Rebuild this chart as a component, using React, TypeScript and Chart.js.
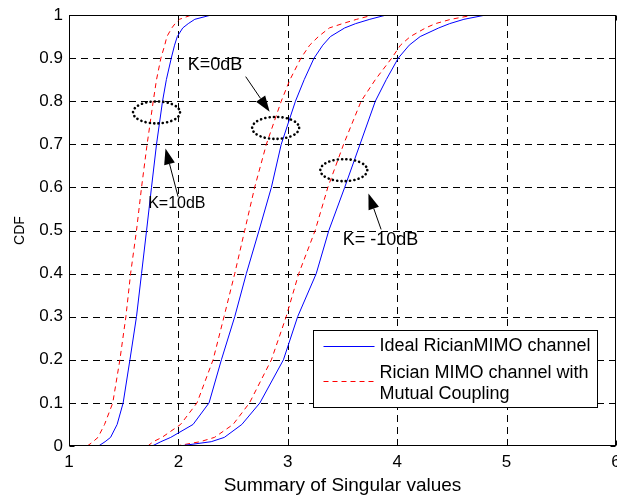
import React, { useEffect, useRef } from 'react';
import { Chart, registerables } from 'chart.js';
Chart.register(...registerables);

// CDF levels (y) and the sum of singular values (x) for each curve at those levels
const cdfLevels = [0, 0.01, 0.02, 0.05, 0.1, 0.2, 0.3, 0.4, 0.5, 0.6, 0.7, 0.8, 0.85, 0.9, 0.93, 0.95, 0.97, 0.98, 0.99, 1, 1];
const idealK10 = [1.27, 1.33, 1.38, 1.44, 1.495, 1.557, 1.617, 1.663, 1.709, 1.754, 1.8, 1.855, 1.89, 1.935, 1.965, 1.99, 2.04, 2.09, 2.15, 2.3, 6];
const couplingK10 = [1.167, 1.22, 1.265, 1.325, 1.4, 1.465, 1.52, 1.563, 1.617, 1.663, 1.714, 1.77, 1.8, 1.84, 1.875, 1.895, 1.94, 1.97, 2.01, 2.12, 6];
const idealK0 = [1.76, 1.84, 1.93, 2.134, 2.28, 2.393, 2.515, 2.621, 2.737, 2.85, 2.94, 3.07, 3.15, 3.24, 3.32, 3.39, 3.52, 3.62, 3.75, 3.9, 6];
const couplingK0 = [1.72, 1.77, 1.85, 2.02, 2.17, 2.317, 2.417, 2.515, 2.606, 2.697, 2.804, 2.94, 3.02, 3.12, 3.2, 3.28, 3.38, 3.5, 3.63, 3.78, 6];
const idealKm10 = [2.01, 2.3, 2.42, 2.58, 2.745, 2.96, 3.09, 3.26, 3.375, 3.52, 3.66, 3.8, 3.9, 4.01, 4.11, 4.21, 4.38, 4.48, 4.61, 4.81, 6];
const couplingKm10 = [1.98, 2.2, 2.33, 2.5, 2.65, 2.85, 2.985, 3.1, 3.25, 3.366, 3.51, 3.67, 3.8, 3.95, 4.03, 4.12, 4.26, 4.35, 4.49, 4.7, 6];

const xTicks = [1, 2, 3, 4, 5, 6];
const yTicks = [0, 0.1, 0.2, 0.3, 0.4, 0.5, 0.6, 0.7, 0.8, 0.9, 1];
const yTickLabels = ['0', '0.1', '0.2', '0.3', '0.4', '0.5', '0.6', '0.7', '0.8', '0.9', '1'];

const seriesNames = ['Ideal RicianMIMO channel', 'Rician MIMO channel with Mutual Coupling'];
const legendLines = [['Ideal RicianMIMO channel'], ['Rician MIMO channel with', 'Mutual Coupling']];

// annotations (data coordinates)
const annotationLabels = ['K=10dB', 'K=0dB', 'K= -10dB'];
const labelX = [1.7235, 2.086, 3.503];
const labelY = [0.5617, 0.884, 0.4776];
const ellipseX = [1.8, 2.889, 3.512];
const ellipseY = [0.774, 0.738, 0.64];
const arrowFromX = [1.997, 2.615, 3.853];
const arrowFromY = [0.5784, 0.857, 0.5024];
const arrowToX = [1.882, 2.834, 3.737];
const arrowToY = [0.6905, 0.7755, 0.586];

const FONT = '"Liberation Sans", Arial, Helvetica, sans-serif';
const BLUE = '#0000ff';
const RED = '#ff0000';
const RED_DASH = [5, 4];

function toPoints(xs: number[]) {
  return xs.map((x, i) => ({ x, y: cdfLevels[i] }));
}

function drawArrow(ctx: CanvasRenderingContext2D, x1: number, y1: number, x2: number, y2: number) {
  const ang = Math.atan2(y2 - y1, x2 - x1);
  const L = 16;
  const W = 5.5;
  const bx = x2 - L * Math.cos(ang);
  const by = y2 - L * Math.sin(ang);
  ctx.beginPath();
  ctx.moveTo(x1, y1);
  ctx.lineTo(bx, by);
  ctx.stroke();
  ctx.beginPath();
  ctx.moveTo(x2, y2);
  ctx.lineTo(bx + W * Math.sin(ang), by - W * Math.cos(ang));
  ctx.lineTo(bx - W * Math.sin(ang), by + W * Math.cos(ang));
  ctx.closePath();
  ctx.fill();
}

const decorPlugin = {
  id: 'decor',
  beforeDatasetsDraw(chart: any) {
    const { ctx, chartArea: a, scales } = chart;
    const xs = scales.x;
    const ys = scales.y;
    ctx.save();
    ctx.strokeStyle = '#000';
    ctx.lineWidth = 1;
    ctx.setLineDash([7, 5]);
    xTicks.forEach((v) => {
      if (v <= xs.min || v >= xs.max) return;
      const px = Math.round(xs.getPixelForValue(v)) + 0.5;
      ctx.beginPath();
      ctx.moveTo(px, a.bottom);
      ctx.lineTo(px, a.top);
      ctx.stroke();
    });
    yTicks.forEach((v) => {
      if (v <= ys.min || v >= ys.max) return;
      const py = Math.round(ys.getPixelForValue(v)) + 0.5;
      ctx.beginPath();
      ctx.moveTo(a.left, py);
      ctx.lineTo(a.right, py);
      ctx.stroke();
    });
    ctx.restore();
  },
  afterDatasetsDraw(chart: any) {
    const { ctx, chartArea: a, scales } = chart;
    const xs = scales.x;
    const ys = scales.y;
    ctx.save();
    // frame
    ctx.setLineDash([]);
    ctx.strokeStyle = '#000';
    ctx.lineWidth = 1;
    const L = Math.round(a.left) + 0.5;
    const R = Math.round(a.right) - 0.5;
    const T = Math.round(a.top) + 0.5;
    const B = Math.round(a.bottom) - 0.5;
    ctx.strokeRect(L, T, R - L, B - T);
    // inward tick marks
    const tl = 5;
    xTicks.forEach((v) => {
      const px = Math.round(xs.getPixelForValue(v)) + 0.5;
      ctx.beginPath();
      ctx.moveTo(px, B); ctx.lineTo(px, B - tl);
      ctx.moveTo(px, T); ctx.lineTo(px, T + tl);
      ctx.stroke();
    });
    yTicks.forEach((v) => {
      const py = Math.round(ys.getPixelForValue(v)) + 0.5;
      ctx.beginPath();
      ctx.moveTo(L, py); ctx.lineTo(L + tl, py);
      ctx.moveTo(R, py); ctx.lineTo(R - tl, py);
      ctx.stroke();
    });

    // dotted ellipses
    ctx.lineWidth = 2.6;
    ctx.lineCap = 'round';
    ctx.setLineDash([0.1, 4.2]);
    ellipseX.forEach((ex, i) => {
      const cx = xs.getPixelForValue(ex);
      const cy = ys.getPixelForValue(ellipseY[i]);
      ctx.beginPath();
      ctx.ellipse(cx, cy, 23.5, 11, 0, 0, Math.PI * 2);
      ctx.stroke();
    });

    // arrows
    ctx.setLineDash([]);
    ctx.lineCap = 'butt';
    ctx.lineWidth = 1;
    ctx.fillStyle = '#000';
    arrowFromX.forEach((fx, i) => {
      drawArrow(
        ctx,
        xs.getPixelForValue(fx), ys.getPixelForValue(arrowFromY[i]),
        xs.getPixelForValue(arrowToX[i]), ys.getPixelForValue(arrowToY[i])
      );
    });

    // labels
    const sizes = [16, 18, 18];
    ctx.textAlign = 'left';
    ctx.textBaseline = 'middle';
    ctx.fillStyle = '#000';
    annotationLabels.forEach((t, i) => {
      ctx.font = `${sizes[i]}px ${FONT}`;
      ctx.fillText(t, xs.getPixelForValue(labelX[i]), ys.getPixelForValue(labelY[i]));
    });

    // legend
    const bw = 284;
    const bh = 77;
    const bx = Math.round(a.right - 19 - bw) + 0.5;
    const by = Math.round(a.bottom - 39 - bh) + 0.5;
    ctx.fillStyle = '#fff';
    ctx.fillRect(bx, by, bw, bh);
    ctx.strokeStyle = '#000';
    ctx.lineWidth = 1;
    ctx.strokeRect(bx, by, bw, bh);
    const ds = chart.data.datasets;
    const sampleX1 = bx + 10;
    const sampleX2 = bx + 61;
    const textX = bx + 66;
    ctx.strokeStyle = ds[0].borderColor;
    ctx.setLineDash(ds[0].borderDash || []);
    ctx.beginPath();
    ctx.moveTo(sampleX1, by + 16); ctx.lineTo(sampleX2, by + 16);
    ctx.stroke();
    ctx.strokeStyle = ds[1].borderColor;
    ctx.setLineDash(ds[1].borderDash || []);
    ctx.beginPath();
    ctx.moveTo(sampleX1, by + 51); ctx.lineTo(sampleX2, by + 51);
    ctx.stroke();
    ctx.setLineDash([]);
    ctx.fillStyle = '#000';
    ctx.font = `18px ${FONT}`;
    ctx.fillText(legendLines[0][0], textX, by + 16);
    ctx.fillText(legendLines[1][0], textX, by + 43);
    ctx.fillText(legendLines[1][1], textX, by + 64);
    ctx.restore();
  },
};

export default function App() {
  const ref = useRef<HTMLCanvasElement | null>(null);
  useEffect(() => {
    document.body.style.margin = '0';
    const canvas = ref.current;
    if (!canvas) return;
    const mk = (xs: number[], name: string, color: string, dash: number[] | undefined) => ({
      label: name,
      data: toPoints(xs),
      borderColor: color,
      backgroundColor: color,
      borderWidth: 1,
      borderDash: dash,
      pointRadius: 0,
      fill: false,
      tension: 0,
    });
    const chart = new Chart(canvas, {
      type: 'line',
      data: {
        datasets: [
          mk(idealK10, seriesNames[0], BLUE, undefined),
          mk(couplingK10, seriesNames[1], RED, RED_DASH),
          mk(idealK0, seriesNames[0], BLUE, undefined),
          mk(couplingK0, seriesNames[1], RED, RED_DASH),
          mk(idealKm10, seriesNames[0], BLUE, undefined),
          mk(couplingKm10, seriesNames[1], RED, RED_DASH),
        ],
      },
      options: {
        animation: false,
        responsive: false,
        devicePixelRatio: 1,
        layout: { padding: { top: 15, right: 1, left: 0, bottom: 0 } },
        plugins: { legend: { display: false }, tooltip: { enabled: false } },
        scales: {
          x: {
            type: 'linear',
            min: 1,
            max: 6,
            grid: { display: false, drawTicks: false },
            border: { display: false },
            afterBuildTicks: (s: any) => { s.ticks = xTicks.map((v) => ({ value: v })); },
            ticks: {
              padding: 6,
              color: '#000',
              font: { family: FONT, size: 17 },
              maxRotation: 0,
              autoSkip: false,
              callback: (v: any) => String(v),
            },
            title: {
              display: true,
              text: 'Summary of Singular values',
              color: '#000',
              font: { family: FONT, size: 19 },
              padding: { top: 0, bottom: 3 },
            },
            afterFit: (s: any) => { s.height = 54; s.paddingLeft = 0; s.paddingRight = 0; },
          },
          y: {
            type: 'linear',
            min: 0,
            max: 1,
            grid: { display: false, drawTicks: false },
            border: { display: false },
            afterBuildTicks: (s: any) => { s.ticks = yTicks.map((v) => ({ value: v })); },
            ticks: {
              padding: 6,
              color: '#000',
              font: { family: FONT, size: 17 },
              autoSkip: false,
              callback: (v: any) => {
                const i = yTicks.findIndex((t) => Math.abs(t - v) < 1e-9);
                return i >= 0 ? yTickLabels[i] : '';
              },
            },
            title: {
              display: true,
              text: 'CDF',
              color: '#000',
              font: { family: FONT, size: 14 },
              padding: { top: 12, bottom: 0 },
            },
            afterFit: (s: any) => { s.width = 69; s.paddingTop = 0; s.paddingBottom = 0; },
          },
        },
      },
      plugins: [decorPlugin],
    } as any);
    return () => chart.destroy();
  }, []);
  return (
    <div style={{ width: 617, height: 500 }}>
      <canvas ref={ref} width={617} height={500} style={{ display: 'block', width: 617, height: 500 }} />
    </div>
  );
}
